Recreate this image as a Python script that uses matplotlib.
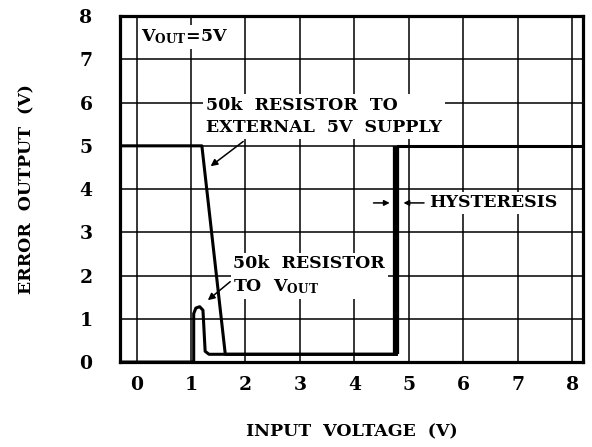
import matplotlib
matplotlib.use("Agg")
import matplotlib.pyplot as plt

# curve: 50k resistor to external 5V supply
ext_x = [-0.3, 1.2, 1.63, 4.77]
ext_y = [5.0, 5.0, 0.18, 0.18]

# curve: 50k resistor to VOUT
vout_x = [-0.3, 1.05, 1.05, 1.09, 1.16, 1.22, 1.26, 1.33, 4.77]
vout_y = [0.0, 0.0, 1.12, 1.25, 1.28, 1.2, 0.25, 0.18, 0.18]

# hysteresis band and high output after trip
hyst_x = [4.77, 4.77]
hyst_y = [0.18, 5.0]
high_x = [4.8, 8.2]
high_y = [5.0, 5.0]

xticks = list(range(0, 9))
yticks = list(range(0, 9))

plt.rcParams['font.family'] = ['DejaVu Serif']
plt.rcParams['font.weight'] = 'bold'
plt.rcParams['mathtext.fontset'] = 'dejavuserif'

fig = plt.figure(figsize=(5.92, 4.47), dpi=100)
ax = fig.add_axes([0.203, 0.19, 0.782, 0.774])

ax.set_xlim(-0.3, 8.2)
ax.set_ylim(0, 8)
ax.set_xticks(xticks)
ax.set_yticks(yticks)
ax.tick_params(length=0, labelsize=13.5)
ax.tick_params(axis='x', pad=10)
ax.tick_params(axis='y', pad=20)
for lab in ax.get_xticklabels() + ax.get_yticklabels():
    lab.set_fontweight('bold')
ax.grid(True, color='black', linewidth=1.1)
for s in ax.spines.values():
    s.set_linewidth(2.3)

ax.plot(ext_x, ext_y, color='black', lw=2.2, solid_joinstyle='round', zorder=3)
ax.plot(vout_x, vout_y, color='black', lw=2.2, solid_joinstyle='round', zorder=3)
ax.plot(hyst_x, hyst_y, color='black', lw=4.5, solid_capstyle='butt', zorder=3)
ax.plot(high_x, high_y, color='black', lw=2.2, zorder=3)

box = dict(facecolor='white', edgecolor='none', pad=2)

ax.text(0.08, 7.52, r'V$_{\mathbf{OUT}}$=5V', fontsize=12.5, fontweight='bold',
        ha='left', va='center', bbox=box, zorder=4)

ax.text(1.28, 5.67, '50k  RESISTOR  TO\nEXTERNAL  5V  SUPPLY', fontsize=12.5,
        fontweight='bold', ha='left', va='center', linespacing=1.4,
        bbox=box, zorder=4)
ax.annotate('', xy=(1.32, 4.49), xytext=(2.0, 5.14),
            arrowprops=dict(arrowstyle='-|>', color='black', lw=1.1,
                            mutation_scale=10), zorder=4)

ax.text(1.78, 2.0, '50k  RESISTOR\nTO  V$_{\\mathbf{OUT}}$', fontsize=12.5,
        fontweight='bold', ha='left', va='center', linespacing=1.4,
        bbox=box, zorder=4)
ax.annotate('', xy=(1.27, 1.39), xytext=(1.76, 1.9),
            arrowprops=dict(arrowstyle='-|>', color='black', lw=1.1,
                            mutation_scale=10), zorder=4)

ax.text(5.38, 3.68, 'HYSTERESIS', fontsize=12.5, fontweight='bold',
        ha='left', va='center', bbox=box, zorder=4)
ax.annotate('', xy=(4.7, 3.68), xytext=(4.3, 3.68),
            arrowprops=dict(arrowstyle='-|>', color='black', lw=1.1,
                            mutation_scale=8), zorder=4)
ax.annotate('', xy=(4.85, 3.68), xytext=(5.33, 3.68),
            arrowprops=dict(arrowstyle='-|>', color='black', lw=1.1,
                            mutation_scale=8), zorder=4)

fig.text(0.5 * (0.203 + 0.985), 0.033, 'INPUT  VOLTAGE  (V)', fontsize=12.5,
         fontweight='bold', ha='center', va='center')
fig.text(0.045, 0.19 + 0.774 / 2, 'ERROR  OUTPUT  (V)', fontsize=12.5,
         fontweight='bold', ha='center', va='center', rotation=90)

fig.savefig('out.png', dpi=100)
